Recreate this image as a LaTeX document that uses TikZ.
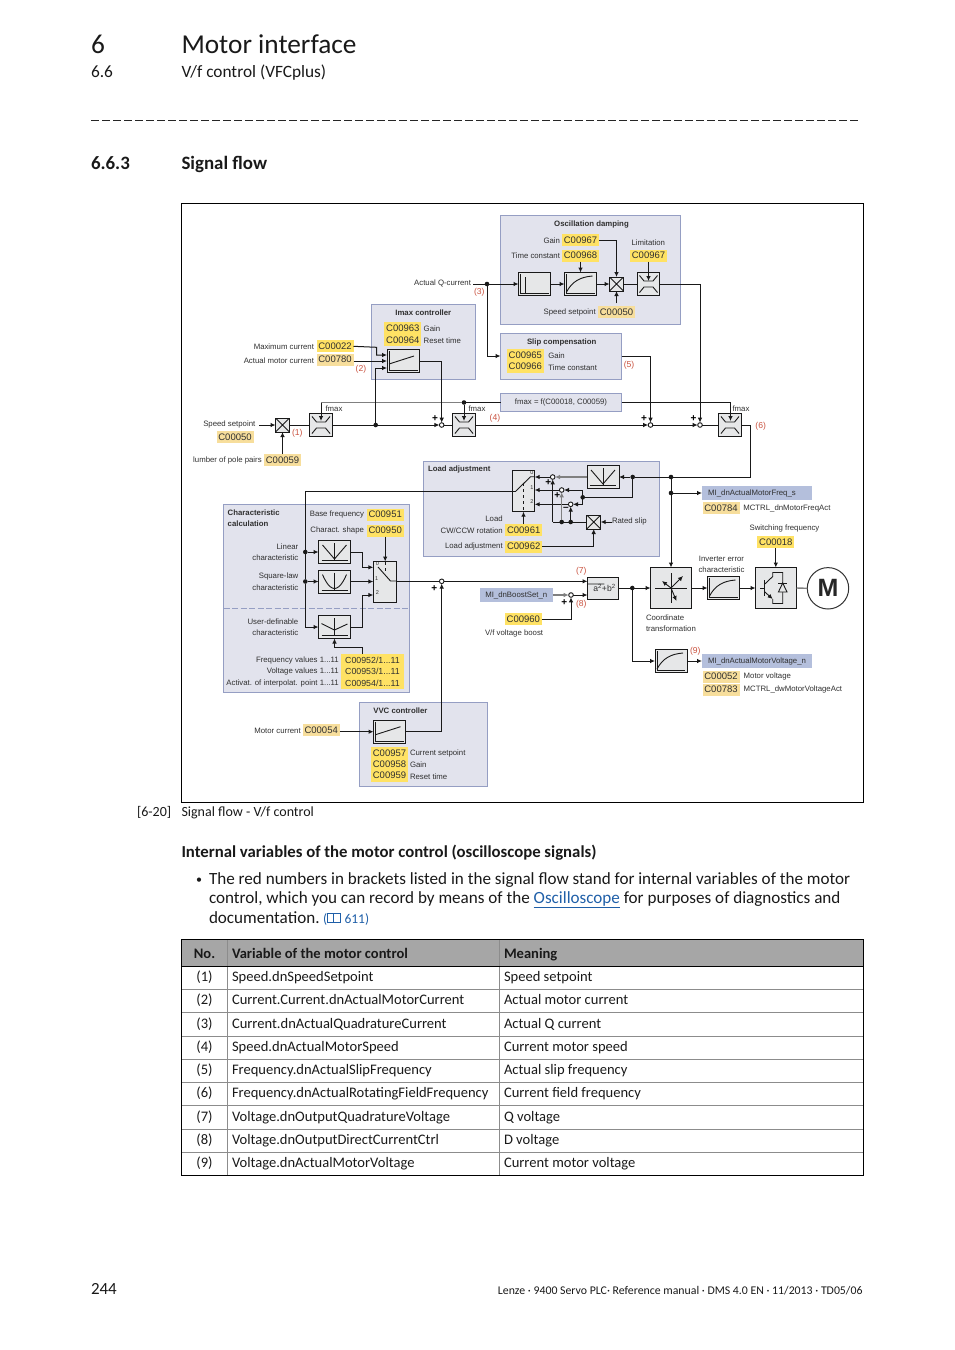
\documentclass[tikz,border=0pt]{standalone}
\usepackage{fontspec}
\setmainfont{Carlito}
\newfontfamily\diagfont{Liberation Sans}
\usetikzlibrary{arrows.meta}

\definecolor{panelfill}{HTML}{E2E3ED}
\definecolor{panelline}{HTML}{959EC3}
\definecolor{blockfill}{HTML}{E6E7E8}
\definecolor{codeyellow}{HTML}{FFE264}
\definecolor{codetan}{HTML}{F7DE9C}
\definecolor{varfill}{HTML}{B4BFDC}
\definecolor{redtag}{HTML}{C9523F}
\definecolor{labeltext}{HTML}{303030}
\definecolor{headfill}{HTML}{A6A6A6}
\definecolor{rowline}{HTML}{8C8C8C}
\definecolor{linkblue}{HTML}{1F5FA8}

\tikzset{
	x=1pt, y=-1pt,
	>={Latex[length=5pt,width=4.6pt]},
	wire/.style={line width=1pt, draw=black!90},
	graywire/.style={line width=1.4pt, draw=black!50},
	panel/.style={draw=panelline, fill=panelfill, line width=0.9pt, inner sep=0pt, outer sep=0pt},
	block/.style={draw=black!90, fill=blockfill, line width=1pt, inner sep=0pt, outer sep=0pt},
	blockicon/.style={path picture={\begin{scope}[shift={(path picture bounding box.center)}, line width=0.9pt]#1\end{scope}}},
	lbl/.style={font=\diagfont\fontsize{7.8}{9}\selectfont, text=labeltext, inner sep=0pt, outer sep=0pt, yshift=-0.6pt},
	head/.style={lbl, font=\diagfont\bfseries\fontsize{7.8}{9}\selectfont},
	tag/.style={lbl, font=\diagfont\fontsize{8.6}{10}\selectfont, text=redtag},
	sign/.style={lbl, font=\diagfont\bfseries\fontsize{10}{10}\selectfont, text=black},
	code/.style={fill=codeyellow, font=\diagfont\fontsize{9.5}{10}\selectfont, text=labeltext, inner sep=0pt, outer sep=0pt, minimum width=37pt, minimum height=12pt},
	codelow/.style={code, fill=codetan},
	codewide/.style={code, minimum width=63pt, minimum height=11.6pt, font=\diagfont\fontsize{8.8}{10}\selectfont},
	varbox/.style={fill=varfill, font=\diagfont\fontsize{7.8}{9}\selectfont, text=labeltext, inner sep=0pt, outer sep=0pt, minimum width=110pt, minimum height=14pt},
	dot/.style={circle, fill=black!90, inner sep=0pt, minimum size=4.6pt, outer sep=0pt},
	summer/.style={circle, draw=black!90, fill=white, line width=0.9pt, inner sep=0pt, minimum size=4.6pt, outer sep=0pt},
	mult/.style={block, minimum size=14pt, blockicon={\draw (-7,-7) -- (7,7) (-7,7) -- (7,-7);}},
	limiter/.style={block, minimum size=23.4pt, blockicon={
		\draw (-9,-8.5) -- (-4.5,-3) -- (4.5,-3) -- (9,-8.5);
		\draw (-9,8.5) -- (-4.5,3) -- (4.5,3) -- (9,8.5);}},
	filterbox/.style={block, minimum width=32pt, minimum height=23pt},
	hpblock/.style={filterbox, blockicon={
		\draw (-14,-10) -- (-14,9.5) -- (14,9.5);
		\draw (-9.5,-7) -- (-9.5,9.5);}},
	lagblock/.style={filterbox, blockicon={
		\draw (-14,-10) -- (-14,9.5) -- (14,9.5);
		\draw (-14,8) .. controls (-8,-3) and (0,-7) .. (12,-8);}},
	piblock/.style={filterbox, blockicon={
		\draw (-14,-10) -- (-14,9.5) -- (14.5,9.5);
		\draw (-14,3) -- (11,-5);}},
	vchar/.style={filterbox, blockicon={
		\draw (0,-9) -- (0,8.5) (-13,8.5) -- (13,8.5);
		\draw (-12,-7) -- (0,7) -- (12,-7);}},
	sqchar/.style={filterbox, blockicon={
		\draw (0,-9) -- (0,8.5) (-13,8.5) -- (13,8.5);
		\draw (-12,-7) parabola bend (0,7) (12,-7);}},
	userchar/.style={filterbox, blockicon={
		\draw (0,-9) -- (0,8.5) (-13,8.5) -- (13,8.5);
		\draw (-13,-3.5) -- (0,3) -- (13,-3);}},
	rootbox/.style={block, minimum width=31pt, minimum height=22pt, font=\diagfont\fontsize{8.6}{9}\selectfont, text=labeltext, blockicon={
		\draw[line width=0.7pt] (-14.5,1.5) -- (-13,0.5) -- (-11.3,8) -- (-10,-8) -- (14,-8);}},
	coordbox/.style={block, minimum size=41pt, blockicon={
		\draw (-16,0) -- (16,0) (0,-15) -- (0,15);
		\draw[->] (0,0) -- (12,-12);
		\draw[->] (0,0) -- (5.5,13);
		\draw[->] (0,0) -- (-9,-7);}},
	igbtbox/.style={block, minimum size=41pt, blockicon={
		\draw[line width=1.2pt] (-11.7,-8) -- (-11.7,8);
		\draw (-16,0) -- (-11.7,0);
		\draw (-11.7,-3.5) -- (-3.3,-11.5) -- (-3.3,-15.5) -- (6.7,-15.5) -- (6.7,15.5) -- (-3.3,15.5) -- (-3.3,11);
		\draw[->] (-11.7,3.5) -- (-3.3,11);
		\draw[fill=blockfill] (6.7,-5) -- (11,4) -- (2.4,4) -- cycle;
		\draw (2.4,-5) -- (11,-5);}},
	charswitch/.style={block, minimum width=23.4pt, minimum height=41pt, blockicon={
		\draw (-7,-15) -- (5.5,-1) -- (12,-1);
		\draw[dashed] (0,-20) -- (0,-8);
		\node[lbl, font=\diagfont\fontsize{5.5}{6}\selectfont] at (-7.7,-18.7) {0};
		\node[lbl, font=\diagfont\fontsize{5.5}{6}\selectfont] at (-8.3,-4.3) {1};
		\node[lbl, font=\diagfont\fontsize{5.5}{6}\selectfont] at (-7.7,9.7) {2};}},
	loadswitch/.style={block, minimum width=22.4pt, minimum height=41.4pt, blockicon={
		\draw (-7.5,0) -- (7,-14.3) -- (12,-14.3);
		\draw[dashed] (0.2,-8) -- (0.2,21);
		\node[lbl, font=\diagfont\fontsize{5.5}{6}\selectfont] at (8.5,-18.7) {0};
		\node[lbl, font=\diagfont\fontsize{5.5}{6}\selectfont] at (8.5,-3.7) {1};
		\node[lbl, font=\diagfont\fontsize{5.5}{6}\selectfont] at (8.5,9.7) {2};}},
	pagetext/.style={anchor=base west, inner sep=0pt, outer sep=0pt, font=\fontsize{17.1}{20}\selectfont, text=black!90},
	tabletext/.style={pagetext, font=\fontsize{14.55}{18}\selectfont},
	tablehead/.style={pagetext, font=\bfseries\fontsize{14.55}{18}\selectfont},
	tablerule/.style={line width=0.7pt, draw=rowline},
	tableedge/.style={line width=0.9pt, draw=black},
}

\begin{document}
\begin{tikzpicture}
	\useasboundingbox (0,0) rectangle (954,1350);

	% Page text
	\node[pagetext, font=\fontsize{27.3}{30}\selectfont] (chapno) at (91,53) {6};
	\node[pagetext, font=\fontsize{27.3}{30}\selectfont] (chapname) at (181.5,53) {Motor interface};
	\node[pagetext, font=\fontsize{17.3}{20}\selectfont] (secno) at (91,77.5) {6.6};
	\node[pagetext, font=\fontsize{17.3}{20}\selectfont] (secname) at (181.5,77.5) {V/f control (VFCplus)};
	\coordinate (ruleleft) at (91,120);
	\coordinate (ruleright) at (860,120);
	\draw[line width=0.8pt, black!85, dash pattern=on 8pt off 3pt] (ruleleft) -- (ruleright);
	\node[pagetext, font=\bfseries\fontsize{18.9}{20}\selectfont] (subno) at (91,169) {6.6.3};
	\node[pagetext, font=\bfseries\fontsize{18.9}{20}\selectfont] (subname) at (181.5,169) {Signal flow};

	% Frame and panels
	\node[draw=black, line width=1pt, inner sep=0pt, minimum width=682pt, minimum height=598.5pt] (frame) at (522.5,502.8) {};
	\node[panel, minimum width=180pt, minimum height=109pt] (oscpanel) at (590.5,269.5) {};
	\node[panel, minimum width=121pt, minimum height=46pt] (slippanel) at (561,356) {};
	\node[panel, minimum width=121pt, minimum height=18pt] (fmaxbox) at (561,402.5) {};
	\node[panel, minimum width=104pt, minimum height=75pt] (imaxpanel) at (423.5,341.5) {};
	\node[panel, minimum width=236pt, minimum height=95.5pt] (loadpanel) at (541.5,508.8) {};
	\node[panel, minimum width=186pt, minimum height=188pt] (charpanel) at (316.5,598.4) {};
	\node[panel, minimum width=128.4pt, minimum height=84.4pt] (vvcpanel) at (423.5,744.5) {};
	\coordinate (charsplit) at (300,608);
	\draw[panelline, line width=0.9pt, dash pattern=on 6pt off 2.5pt] (charpanel.west |- charsplit) -- (charpanel.east |- charsplit);

	% Blocks
	\node[mult] (inmult) at (282.5,425) {};
	\node[limiter] (limfirst) at (321,425) {};
	\node[limiter] (limsecond) at (464,425) {};
	\node[limiter] (limthird) at (730,425) {};
	\node[piblock] (imaxpi) at (403,361) {};
	\node[hpblock] (oscfilter) at (534.5,284) {};
	\node[lagblock] (osclag) at (580.5,284) {};
	\node[mult] (oscmult) at (616.5,284) {};
	\node[limiter, minimum size=22.5pt] (osclim) at (648.5,284) {};
	\node[loadswitch] (loadsw) at (523.5,491) {};
	\node[vchar] (loadchar) at (603,477) {};
	\node[mult] (loadmult) at (593.7,522) {};
	\node[vchar] (linchar) at (334.5,552) {};
	\node[sqchar] (squarechar) at (334.5,581.5) {};
	\node[userchar] (freechar) at (334.5,627) {};
	\node[charswitch] (charsw) at (385,582) {};
	\node[piblock] (vvcpi) at (389.5,731.7) {};
	\node[rootbox] (sqrtblock) at (603,588) {\hspace*{3pt}a\textsuperscript{2}+b\textsuperscript{2}};
	\node[coordbox] (coordblock) at (671,588) {};
	\node[lagblock] (invchar) at (723.5,588) {};
	\node[igbtbox] (igbt) at (776,588) {};
	\node[lagblock] (lowlag) at (671,661) {};
	\node[circle, draw=black!80, fill=white, line width=1pt, inner sep=0pt, outer sep=0pt, minimum size=41.4pt, font=\diagfont\bfseries\fontsize{25}{25}\selectfont, text=black!85] (motor) at (828,588.3) {M};

	% Summing points and junctions
	\node[summer] (sumfirst) at (441.7,425) {};
	\node[summer] (sumslip) at (650.5,425) {};
	\node[summer] (sumosc) at (700,425) {};
	\node[summer] (sumvvc) at (441.7,581.3) {};
	\node[summer] (sumboost) at (571,595) {};
	\node[summer] (sumzero) at (552.7,477) {};
	\node[summer] (sumone) at (561.7,490) {};
	\node[summer] (sumtwo) at (570.7,504.3) {};
	\node[dot] (qdot) at (487,284) {};
	\node[dot] (maindot) at (375.7,425) {};
	\node[dot] (fmaxdot) at (464,402.5) {};
	\node[dot] (freqdot) at (671,477) {};
	\node[dot] (motdot) at (671,493) {};
	\node[dot] (chardot) at (632.7,477) {};
	\node[dot] (joindot) at (582.7,497.3) {};
	\node[dot] (slipdotone) at (561.7,522) {};
	\node[dot] (slipdottwo) at (570.7,522) {};
	\node[dot] (feeddotone) at (305.3,552) {};
	\node[dot] (feeddottwo) at (305.3,581.5) {};
	\node[dot] (sqrtdot) at (632.3,588) {};

	% Codes
	\node[code] (codegain) at (580.5,240) {C00967};
	\node[code] (codetime) at (580.5,255.5) {C00968};
	\node[code] (codelimit) at (648.5,255.5) {C00967};
	\node[codelow] (codespeedb) at (616.5,312.3) {C00050};
	\node[code] (codeslipa) at (525.3,354.8) {C00965};
	\node[code] (codeslipb) at (525.3,366.7) {C00966};
	\node[code] (codeimaxa) at (402.8,327.8) {C00963};
	\node[code] (codeimaxb) at (402.8,340) {C00964};
	\node[code] (codemaxcur) at (335,346.3) {C00022};
	\node[codelow] (codeactcur) at (335,359.7) {C00780};
	\node[codelow] (codespeeda) at (235,437.3) {C00050};
	\node[codelow] (codepoles) at (282.5,460) {C00059};
	\node[code] (codeload) at (523.7,530) {C00961};
	\node[code] (codeadj) at (523.7,546.5) {C00962};
	\node[code] (codebase) at (385.2,514.7) {C00951};
	\node[code] (codeshape) at (385.2,530.5) {C00950};
	\node[codewide] (codefreq) at (372.5,660.2) {C00952/1...11};
	\node[codewide] (codevolt) at (372.5,671.7) {C00953/1...11};
	\node[codewide] (codeact) at (372.5,683.2) {C00954/1...11};
	\node[code] (codevvca) at (389.5,752.8) {C00957};
	\node[code] (codevvcb) at (389.5,764) {C00958};
	\node[code] (codevvcc) at (389.5,775.7) {C00959};
	\node[codelow] (codemotcur) at (321.2,730.3) {C00054};
	\node[code] (codeboost) at (523.3,619.2) {C00960};
	\node[code] (codeswitch) at (775.8,542) {C00018};
	\node[codelow] (codefreqact) at (721,508.3) {C00784};
	\node[codelow] (codemotvolt) at (721,676.7) {C00052};
	\node[codelow] (codevoltact) at (721,689.7) {C00783};
	\node[varbox] (mifreq) at (757,493) {\hspace*{-10pt}MI\_dnActualMotorFreq\_s};
	\node[varbox] (mivolt) at (757,661) {MI\_dnActualMotorVoltage\_n};
	\node[varbox, minimum width=72.7pt] (miboost) at (516.3,595) {MI\_dnBoostSet\_n};

	% Labels
	\node[head] (titleosc) at (591.5,224) {Oscillation damping};
	\node[lbl, anchor=east] (lblgain) at (560,240) {Gain};
	\node[lbl, anchor=east] (lbltime) at (560,255) {Time constant};
	\node[lbl] (lbllimit) at (648.3,242) {Limitation};
	\node[lbl, anchor=east] (lblspeedb) at (595.7,312) {Speed setpoint};
	\node[head] (titleslip) at (561.7,342) {Slip compensation};
	\node[lbl, anchor=west] (lblslipa) at (548.3,355) {Gain};
	\node[lbl, anchor=west] (lblslipb) at (548.3,367) {Time constant};
	\node[lbl] (lblfmaxbox) at (561,401.5) {fmax = f(C00018, C00059)};
	\node[lbl] (lblfmaxa) at (334,408) {fmax};
	\node[lbl] (lblfmaxb) at (477,408) {fmax};
	\node[lbl] (lblfmaxc) at (741,408) {fmax};
	\node[head] (titleimax) at (423.3,311.7) {Imax controller};
	\node[lbl, anchor=west] (lblimaxa) at (423.7,328) {Gain};
	\node[lbl, anchor=west] (lblimaxb) at (423.7,340) {Reset time};
	\node[lbl, anchor=east] (lblmaxcur) at (314,346) {Maximum current};
	\node[lbl, anchor=east] (lblactcur) at (314,360) {Actual motor current};
	\node[lbl, anchor=east] (lblspeeda) at (255.3,424) {Speed setpoint};
	\node[lbl, anchor=east] (lblpoles) at (261.7,460) {lumber of pole pairs};
	\node[lbl, anchor=east] (lblqcur) at (471,283) {Actual Q-current};
	\node[head, anchor=west] (titleload) at (428,469) {Load adjustment};
	\node[lbl, anchor=east] (lblloada) at (502.7,518.5) {Load};
	\node[lbl, anchor=east] (lblloadb) at (502.7,530) {CW/CCW rotation};
	\node[lbl, anchor=east] (lbladj) at (502.7,546) {Load adjustment};
	\node[lbl, anchor=west] (lblrated) at (612,520.5) {Rated slip};
	\node[head, anchor=west] (titlechara) at (227.7,511.7) {Characteristic};
	\node[head, anchor=west] (titlecharb) at (227.7,522.7) {calculation};
	\node[lbl, anchor=east] (lblbase) at (364,514) {Base frequency};
	\node[lbl, anchor=east] (lblshape) at (364,530) {Charact. shape};
	\node[lbl, anchor=east] (lbllina) at (298.3,546) {Linear};
	\node[lbl, anchor=east] (lbllinb) at (298.3,557) {characteristic};
	\node[lbl, anchor=east] (lblsqa) at (298.3,576) {Square-law};
	\node[lbl, anchor=east] (lblsqb) at (298.3,586.7) {characteristic};
	\node[lbl, anchor=east] (lblusea) at (298.3,620.7) {User-definable};
	\node[lbl, anchor=east] (lbluseb) at (298.3,631.7) {characteristic};
	\node[lbl, anchor=east] (lblfreq) at (338.7,660) {Frequency values 1...11};
	\node[lbl, anchor=east] (lblvolt) at (338.7,671) {Voltage values 1...11};
	\node[lbl, anchor=east] (lblact) at (338.7,682.7) {Activat. of interpolat. point 1...11};
	\node[head, anchor=west] (titlevvc) at (373.3,710) {VVC controller};
	\node[lbl, anchor=west] (lblvvca) at (410,752.7) {Current setpoint};
	\node[lbl, anchor=west] (lblvvcb) at (410,763.7) {Gain};
	\node[lbl, anchor=west] (lblvvcc) at (410,775.7) {Reset time};
	\node[lbl, anchor=east] (lblmotcur) at (300.7,730) {Motor current};
	\node[lbl, anchor=west] (lblboost) at (485,632.7) {V/f voltage boost};
	\node[lbl, anchor=west] (lblcoorda) at (646,616.7) {Coordinate};
	\node[lbl, anchor=west] (lblcoordb) at (646,627.7) {transformation};
	\node[lbl] (lblinva) at (721.5,558) {Inverter error};
	\node[lbl] (lblinvb) at (721.5,569) {characteristic};
	\node[lbl] (lblswitch) at (784.5,528) {Switching frequency};
	\node[lbl, anchor=west] (lblfreqact) at (743.3,508) {MCTRL\_dnMotorFreqAct};
	\node[lbl, anchor=west] (lblmotvolt) at (743.7,675.7) {Motor voltage};
	\node[lbl, anchor=west] (lblvoltact) at (743.7,689) {MCTRL\_dwMotorVoltageAct};
	\node[tag] (tagone) at (297.3,433) {(1)};
	\node[tag] (tagtwo) at (361,369) {(2)};
	\node[tag] (tagthree) at (479.3,292) {(3)};
	\node[tag] (tagfour) at (495,417.3) {(4)};
	\node[tag] (tagfive) at (629,365) {(5)};
	\node[tag] (tagsix) at (760.7,426) {(6)};
	\node[tag] (tagseven) at (581.3,571) {(7)};
	\node[tag] (tageight) at (581.3,603.3) {(8)};
	\node[tag] (tagnine) at (695.3,651) {(9)};
	\node[sign] (plusa) at (435,418.3) {+};
	\node[sign] (plusb) at (644,418.3) {+};
	\node[sign] (plusc) at (693.5,418.3) {+};
	\node[sign] (plusd) at (434.3,588.3) {+};
	\node[sign] (pluse) at (564.3,601.7) {+};
	\node[sign] (plusf) at (548.3,481.7) {+};
	\node[sign] (plusg) at (557.3,495) {+};
	\node[sign] (minush) at (566,508.3) {\textendash};

	% Coordinates
	\coordinate (maxbend) at (376.7,347.3);
	\coordinate (maxdown) at (376.7,355);
	\coordinate (pilow) at (375.7,368);
	\coordinate (fmaxbend) at (321,402.5);
	\coordinate (limfirsttip) at (321,421);
	\coordinate (limsecondtip) at (464,421);
	\coordinate (limthirdtip) at (730.5,421);
	\coordinate (osctip) at (648.5,281);
	\coordinate (freqbend) at (750.5,477);
	\coordinate (joinone) at (582.7,490);
	\coordinate (jointwo) at (582.7,504.3);
	\coordinate (slipbend) at (552.7,522);
	\coordinate (feedtop) at (305.3,491);
	\coordinate (linbend) at (362.7,552);
	\coordinate (lindown) at (362.7,567.3);
	\coordinate (freebend) at (362.7,627);
	\coordinate (freeup) at (362.7,595);
	\coordinate (valtop) at (362.7,654);
	\coordinate (valbend) at (362.7,647.3);

	% Edges: main speed path
	\draw[wire, ->, shorten <=4pt] (lblspeeda.east |- inmult) -- (inmult.west);
	\draw[wire, ->] (codepoles.north) -- (inmult.south);
	\draw[wire] (inmult.east) -- (limfirst.west);
	\draw[wire, ->] (limfirst.east) -- (sumfirst);
	\draw[wire] (sumfirst) -- (limsecond.west);
	\draw[wire, ->] (limsecond.east) -- (sumslip);
	\draw[wire, ->] (sumslip) -- (sumosc);
	\draw[wire] (sumosc) -- (limthird.west);
	\draw[wire] (limthird.east) -| (freqbend) -- (freqdot);
	\draw[wire, ->] (freqdot) -- (chardot) -- (loadchar.east);
	\draw[wire] (freqdot) -- (motdot);
	\draw[wire, ->] (motdot) -- (coordblock.north);
	\draw[wire, ->] (motdot) -- (mifreq.west);

	% Edges: fmax
	\draw[wire] (fmaxbox.west) -- (fmaxdot);
	\draw[graywire] (fmaxdot) -- (fmaxbend);
	\draw[wire, ->] (fmaxbend) -- (limfirsttip);
	\draw[wire, ->] (fmaxdot) -- (limsecondtip);
	\draw[wire, ->] (fmaxbox.east) -| (limthirdtip);

	% Edges: Imax controller
	\draw[wire, ->] (codemaxcur.east) -- (maxbend) -- (maxdown) -- (imaxpi.west |- maxdown);
	\draw[wire, ->] (codeactcur.east |- imaxpi) -- (imaxpi.west);
	\draw[wire] (maindot) -- (pilow);
	\draw[wire, ->] (pilow) -- (imaxpi.west |- pilow);
	\draw[wire, ->] (imaxpi.east) -| (sumfirst);

	% Edges: oscillation damping and slip compensation
	\draw[wire, shorten <=2pt] (lblqcur.east |- qdot) -- (qdot);
	\draw[wire, ->] (qdot) -- (oscfilter.west);
	\draw[wire, ->] (qdot) |- (slippanel.west);
	\draw[wire, ->] (oscfilter.east) -- (osclag.west);
	\draw[wire, ->] (osclag.east) -- (oscmult.west);
	\draw[wire] (oscmult.east) -- (osclim.west);
	\draw[wire, ->] (osclim.east) -| (sumosc);
	\draw[wire, ->] (codegain.east) -| (oscmult.north);
	\draw[wire, ->] (codetime.south) -- (osclag.north);
	\draw[wire, ->] (codelimit.south) -- (osctip);
	\draw[wire, ->] ([yshift=3pt]codespeedb.north) -- (oscmult.south);
	\draw[wire, ->] (slippanel.east) -| (sumslip);

	% Edges: load adjustment
	\draw[graywire, ->] (loadchar.west) -- (sumzero);
	\draw[wire] (joindot) -| (chardot);
	\draw[wire] (joinone) -- (jointwo);
	\draw[wire, ->] (joinone) -- (sumone);
	\draw[wire, ->] (jointwo) -- (sumtwo);
	\draw[wire, ->] (sumzero) -- (sumzero -| loadsw.east);
	\draw[wire, ->] (sumone) -- (sumone -| loadsw.east);
	\draw[wire, ->] (sumtwo) -- (sumtwo -| loadsw.east);
	\draw[wire] (loadmult.west) -- (slipbend);
	\draw[wire, ->] (slipbend) -- (sumzero);
	\draw[graywire, ->] (slipdotone) -- (sumone);
	\draw[wire, ->] (slipdottwo) -- (sumtwo);
	\draw[wire, ->] (lblrated.west |- loadmult) -- (loadmult.east);
	\draw[wire, ->] (codeadj.east) -| (loadmult.south);
	\draw[wire, ->] (codeload.north -| loadsw) -- (loadsw.south);

	% Edges: characteristic calculation
	\draw[wire] (feedtop) -- ([xshift=-7.5pt]loadsw.center);
	\draw[wire] (feedtop) -- (feeddotone) -- (feeddottwo);
	\draw[wire, ->] (feeddotone) -- (linchar.west);
	\draw[wire, ->] (feeddottwo) -- (squarechar.west);
	\draw[wire, ->] (feeddottwo) |- (freechar.west);
	\draw[wire, ->] (linchar.east) -- (linbend) -- (lindown) -- (charsw.west |- lindown);
	\draw[wire, ->] (squarechar.east) -- (charsw.west |- squarechar);
	\draw[wire, ->] (freechar.east) -- (freebend) -- (freeup) -- (charsw.west |- freeup);
	\draw[wire, ->] (valtop) -- (valbend) -| (freechar.south);
	\draw[wire, ->] (codeshape.south) -- (codeshape.south |- charsw.north);
	\draw[wire] (charsw.east |- sumvvc) -- (sumvvc);

	% Edges: voltage path
	\draw[wire, ->] (codemotcur.east |- vvcpi) -- (vvcpi.west);
	\draw[wire, ->] (vvcpi.east) -| (sumvvc);
	\draw[wire, ->] (sumvvc) -- (sqrtblock.west |- sumvvc);
	\draw[graywire, ->] (miboost.east) -- (sumboost);
	\draw[wire, ->] (sumboost) -- (sqrtblock.west |- sumboost);
	\draw[wire, ->] (codeboost.east) -| (sumboost);
	\draw[wire, ->] (sqrtblock.east) -- (coordblock.west);
	\draw[wire, ->] (sqrtdot) |- (lowlag.west);
	\draw[wire, ->] (lowlag.east) -- (mivolt.west);
	\draw[wire, ->] (coordblock.east) -- (invchar.west);
	\draw[wire, ->] (invchar.east) -- (igbt.west);
	\draw[wire, ->] (codeswitch.south) -- (codeswitch.south |- igbt.north);
	\draw[graywire] (igbt.east) -- (motor.west);

	% Caption and notes
	\node[pagetext, font=\fontsize{14}{16}\selectfont] (capno) at (137,816.5) {[6-20]};
	\node[pagetext, font=\fontsize{14}{16}\selectfont] (captext) at (181.5,816.5) {Signal flow - V/f control};
	\node[pagetext, font=\bfseries\fontsize{16.75}{20}\selectfont] (notehead) at (181.5,857) {Internal variables of the motor control (oscilloscope signals)};
	\node[pagetext, font=\fontsize{12}{14}\selectfont] (bullet) at (196,883) {\textbullet};
	\node[pagetext] (notea) at (209,884) {The red numbers in brackets listed in the signal flow stand for internal variables of the motor};
	\node[pagetext] (noteb) at (209,903) {control, which you can record by means of the \textcolor{linkblue}{\underline{Oscilloscope}} for purposes of diagnostics and};
	\node[pagetext] (notec) at (209,923) {documentation.};
	\node[pagetext, text=linkblue, font=\fontsize{13.5}{16}\selectfont] (linkopen) at (323,923) {(};
	\node[pagetext, text=linkblue, font=\fontsize{13.5}{16}\selectfont] (linkpage) at (344.5,923) {611)};
	\node[draw=linkblue, line width=0.8pt, inner sep=0pt, minimum width=6.5pt, minimum height=9pt] (bookleft) at (330.5,918) {};
	\node[draw=linkblue, line width=0.8pt, inner sep=0pt, minimum width=6.5pt, minimum height=9pt] (bookright) at (337,918) {};

	% Table
	\coordinate (tabtl) at (181.5,939.5);
	\coordinate (tabbr) at (863,1175.5);
	\fill[headfill] (tabtl) rectangle (863,966);
	\draw[tablerule] (227.5,939.5) -- (227.5,1175.5);
	\draw[tablerule] (499.5,939.5) -- (499.5,1175.5);
	\foreach \rowline in {989.5,1012.5,1036,1059,1082,1105.5,1129,1152}
		\draw[tablerule] (181.5,\rowline) -- (863,\rowline);
	\draw[tableedge] (181.5,966) -- (863,966);
	\draw[tableedge] (tabtl) rectangle (tabbr);
	\node[tablehead, anchor=base] (headno) at (204.5,958.5) {No.};
	\node[tablehead] (headvar) at (232,958.5) {Variable of the motor control};
	\node[tablehead] (headmean) at (504,958.5) {Meaning};
	\foreach \rowno/\rowy/\rowvar/\rowmean in {
		1/981.5/Speed.dnSpeedSetpoint/Speed setpoint,
		2/1004.5/Current.Current.dnActualMotorCurrent/Actual motor current,
		3/1028/Current.dnActualQuadratureCurrent/Actual Q current,
		4/1051/Speed.dnActualMotorSpeed/Current motor speed,
		5/1074/Frequency.dnActualSlipFrequency/Actual slip frequency,
		6/1097.5/Frequency.dnActualRotatingFieldFrequency/Current field frequency,
		7/1121/Voltage.dnOutputQuadratureVoltage/Q voltage,
		8/1144/Voltage.dnOutputDirectCurrentCtrl/D voltage,
		9/1167/Voltage.dnActualMotorVoltage/Current motor voltage}
	{
		\node[tabletext, anchor=base] (no\rowno) at (204.5,\rowy) {(\rowno)};
		\node[tabletext] (var\rowno) at (232,\rowy) {\rowvar};
		\node[tabletext] (mean\rowno) at (504,\rowy) {\rowmean};
	}

	% Footer
	\node[pagetext, font=\fontsize{17}{18}\selectfont] (pageno) at (91,1294) {244};
	\node[pagetext, anchor=base east, font=\fontsize{11.8}{14}\selectfont] (footer) at (862.5,1294.5) {Lenze · 9400 Servo PLC· Reference manual · DMS 4.0 EN · 11/2013 · TD05/06};

\end{tikzpicture}
\end{document}
